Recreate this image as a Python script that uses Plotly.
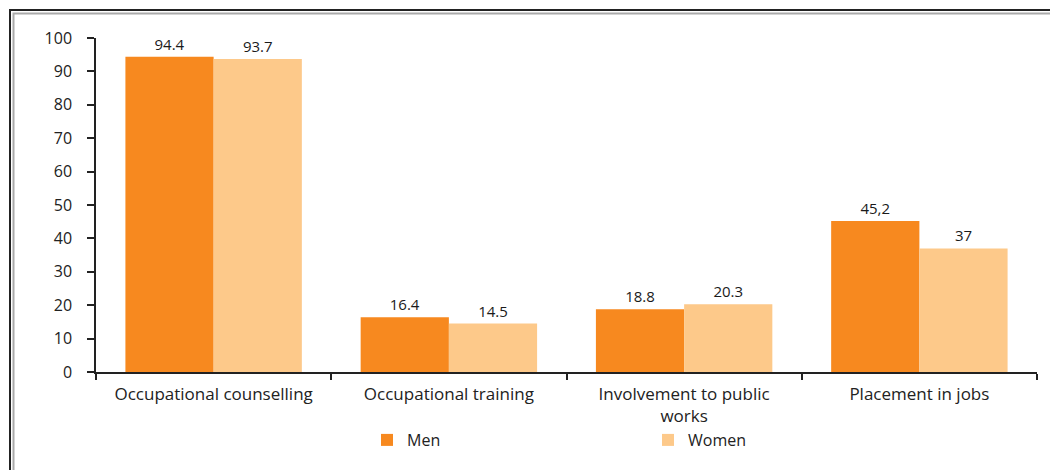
import plotly.graph_objects as go

categories = ["Occupational counselling", "Occupational training",
              "Involvement to public<br>works", "Placement in jobs"]
men = [94.4, 16.4, 18.8, 45.2]
women = [93.7, 14.5, 20.3, 37]
men_labels = ["94.4", "16.4", "18.8", "45,2"]
women_labels = ["93.7", "14.5", "20.3", "37"]
y_ticks = [0, 10, 20, 30, 40, 50, 60, 70, 80, 90, 100]

OFF = 8  # page body margin
W, H = 1058 - OFF, 470 - OFF
L, R, T, B = 96 - OFF, 21, 38 - OFF, 98
pw, ph = W - L - R, H - T - B

def px(x):
    return (x - OFF - L) / pw

def py(y):
    return (H - B - (y - OFF)) / ph

FONT = "Open Sans"

fig = go.Figure()
fig.add_trace(go.Bar(x=categories, y=men, name="Men", marker_color="#F7891F",
                     marker_line_width=0, text=men_labels, textposition="outside",
                     textfont=dict(size=15, color="#1a1a1a", family=FONT), cliponaxis=False))
fig.add_trace(go.Bar(x=categories, y=women, name="Women", marker_color="#FDC98A",
                     marker_line_width=0, text=women_labels, textposition="outside",
                     textfont=dict(size=15, color="#1a1a1a", family=FONT), cliponaxis=False))

fig.update_layout(
    width=W, height=H,
    margin=dict(l=L, r=R, t=T, b=B),
    paper_bgcolor="white", plot_bgcolor="white",
    barmode="group", bargap=0.25, bargroupgap=0,
    font=dict(family=FONT, size=15, color="#222"),
    showlegend=True,
    legend=dict(orientation="h", x=px(367), xanchor="left", y=py(440), yanchor="middle",
                entrywidthmode="pixels", entrywidth=236,
                font=dict(size=16, family=FONT, color="#222"), bgcolor="rgba(0,0,0,0)"),
    xaxis=dict(showline=True, linecolor="#222", linewidth=1.5, ticks="outside",
               tickson="boundaries", ticklen=6, tickcolor="#222", tickwidth=1.5,
               ticklabelstandoff=6,
               tickfont=dict(size=17, family=FONT, color="#222"), showgrid=False,
               zeroline=False),
    yaxis=dict(range=[0, 100], tickvals=y_ticks, showline=True, linecolor="#222",
               linewidth=1.5, ticks="outside", ticklen=7, tickcolor="#222", tickwidth=1.5,
               ticklabelstandoff=12,
               tickfont=dict(size=16, family=FONT, color="#222"), showgrid=False,
               zeroline=False),
)

# outer double frame
fig.add_shape(type="rect", xref="paper", yref="paper",
              x0=px(10), x1=px(1075), y0=py(10), y1=py(490),
              line=dict(color="#222", width=2), fillcolor="rgba(0,0,0,0)", layer="below")
fig.add_shape(type="rect", xref="paper", yref="paper",
              x0=px(13.5), x1=px(1072), y0=py(13.5), y1=py(487),
              line=dict(color="#aaa", width=2), fillcolor="rgba(0,0,0,0)", layer="below")

fig.write_html("out.html")
